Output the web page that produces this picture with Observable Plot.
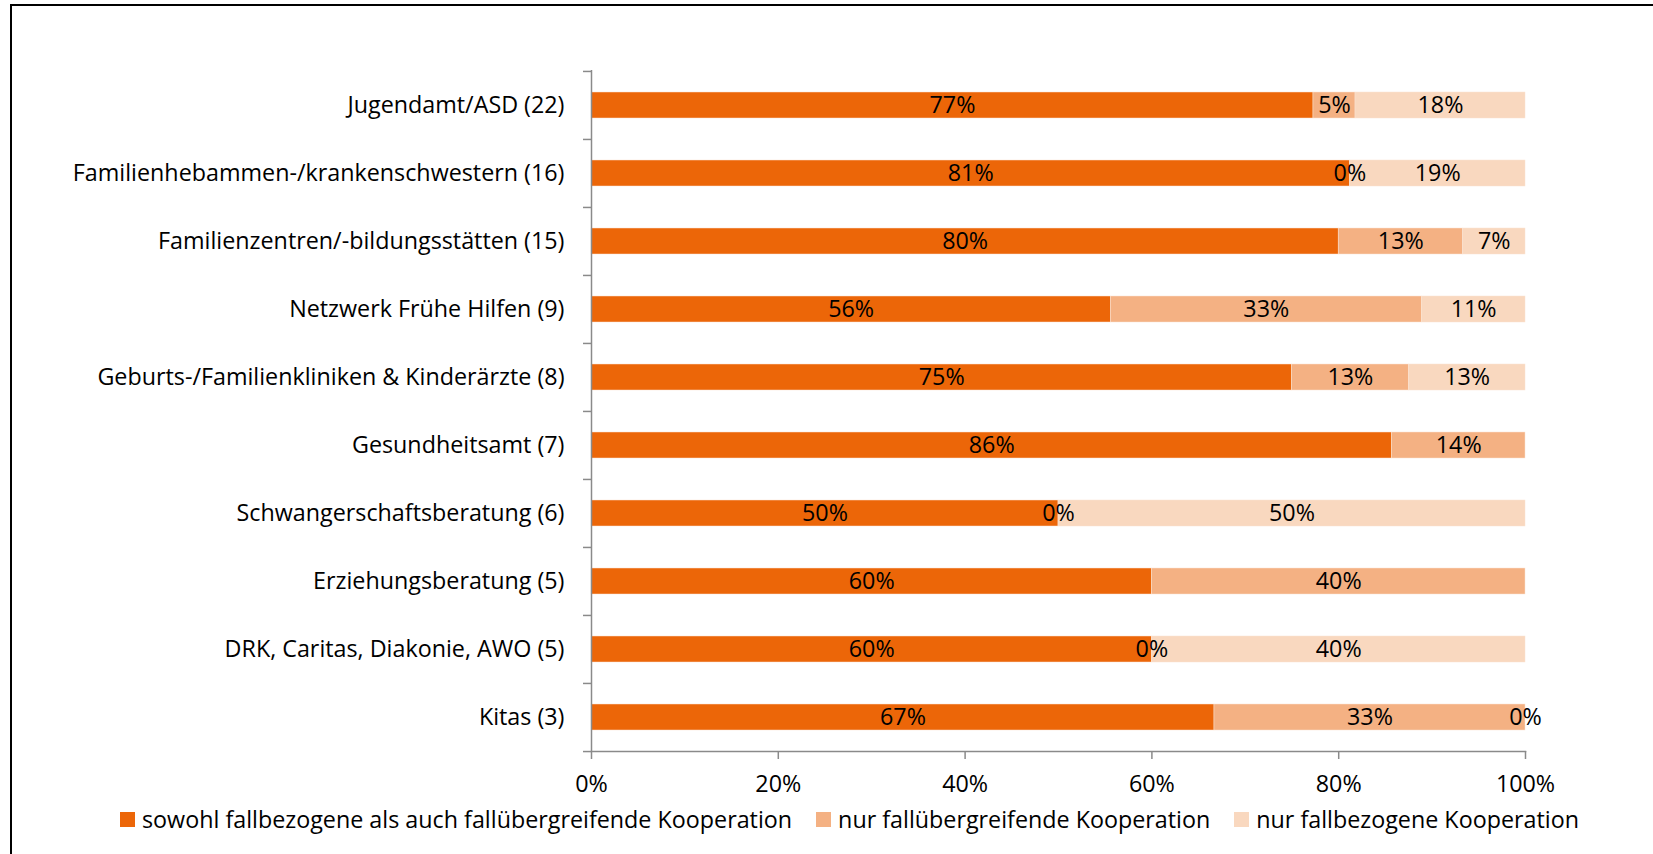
<!DOCTYPE html>
<html>
<head>
<meta charset="utf-8">
<script src="https://cdn.jsdelivr.net/npm/d3@7"></script>
<script src="https://cdn.jsdelivr.net/npm/@observablehq/plot@0.6"></script>
<style>
  html, body { margin: 0; padding: 0; background: #fff; overflow: hidden; width: 1653px; height: 854px; }
  #frame { position: absolute; left: 10px; top: 4px; width: 1643px; height: 850px; border-left: 2px solid #000; border-top: 2px solid #000; box-sizing: border-box; }
  #chart { position: absolute; left: 0; top: 0; }
  #legend { position: absolute; left: 120px; top: 803px; display: flex; align-items: center; font-family: "Open Sans", sans-serif; font-size: 23.3px; color: #000; white-space: nowrap; }
  .item { display: flex; align-items: center; margin-right: 24px; }
  .sw { width: 15px; height: 15px; margin-right: 7px; }
</style>
</head>
<body>
<div id="frame"></div>
<div id="chart"></div>
<div id="legend"></div>
<script>
const categories = [
  "Jugendamt/ASD (22)",
  "Familienhebammen-/krankenschwestern (16)",
  "Familienzentren/-bildungsstätten (15)",
  "Netzwerk Frühe Hilfen (9)",
  "Geburts-/Familienkliniken & Kinderärzte (8)",
  "Gesundheitsamt (7)",
  "Schwangerschaftsberatung (6)",
  "Erziehungsberatung (5)",
  "DRK, Caritas, Diakonie, AWO (5)",
  "Kitas (3)"
];
const seriesNames = [
  "sowohl fallbezogene als auch fallübergreifende Kooperation",
  "nur fallübergreifende Kooperation",
  "nur fallbezogene Kooperation"
];
const both      = [77.3, 81.2, 80.0, 55.6, 75.0, 85.7, 50.0, 60.0, 60.0, 66.7];
const crossOnly = [4.5, 0, 13.3, 33.3, 12.5, 14.3, 0, 40.0, 0, 33.3];
const caseOnly  = [18.2, 18.8, 6.7, 11.1, 12.5, null, 50.0, null, 40.0, 0];
const seriesColors = ["#EC6608", "#F4B183", "#F9D8BF"];
const xTicks = [0, 20, 40, 60, 80, 100];

const seriesValues = [both, crossOnly, caseOnly];
const rows = [];
categories.forEach((c, i) => {
  seriesValues.forEach((vals, s) => {
    if (vals[i] != null) rows.push({category: c, series: seriesNames[s], value: vals[i]});
  });
});

const plotTop = 70, plotBottom = 751, nCat = categories.length;
const step = (plotBottom - plotTop) / nCat;
const font = "Open Sans, sans-serif";
const fs = 23.3;
const axisGray = "#8a8a8a";
const svgHeight = 801;

const chart = Plot.plot({
  width: 1653,
  height: svgHeight,
  marginTop: plotTop,
  marginBottom: svgHeight - plotBottom,
  marginLeft: 591,
  marginRight: 128,
  style: {fontFamily: font, fontSize: fs + "px", color: "#000", background: "transparent", overflow: "visible"},
  x: {domain: [0, 100], label: null},
  y: {domain: categories, paddingInner: 0.62, paddingOuter: 0.31, label: null},
  color: {domain: seriesNames, range: seriesColors},
  marks: [
    Plot.barX(rows, Plot.stackX({y: "category", x: "value", fill: "series", z: "series", stroke: "#fbe3d2", strokeWidth: 0.5})),
    Plot.text(rows, Plot.stackX({y: "category", x: "value", z: "series", text: d => Math.round(d.value) + "%", fill: "#000", fontSize: fs})),
    Plot.ruleX([0], {stroke: axisGray, strokeWidth: 1.5}),
    Plot.frame({anchor: "bottom", stroke: axisGray, strokeWidth: 1.5}),
    Plot.axisY({tickSize: 0, tickPadding: 27, fill: "#000", fontSize: fs, label: null}),
    Plot.axisY({tickSize: 8, tickFormat: () => "", dy: -step / 2, stroke: axisGray, strokeWidth: 1.5, label: null}),
    Plot.axisY({ticks: [categories[nCat - 1]], tickSize: 8, tickFormat: () => "", dy: step / 2, stroke: axisGray, strokeWidth: 1.5, label: null}),
    Plot.axisX({ticks: xTicks, tickSize: 8, tickPadding: 16, tickFormat: d => d + "%", stroke: axisGray, strokeWidth: 1.5, fill: "#000", fontSize: fs, label: null})
  ]
});
document.getElementById("chart").appendChild(chart);

const legend = document.getElementById("legend");
seriesNames.forEach((name, i) => {
  const item = document.createElement("div");
  item.className = "item";
  const sw = document.createElement("div");
  sw.className = "sw";
  sw.style.background = seriesColors[i];
  const label = document.createElement("span");
  label.textContent = name;
  item.appendChild(sw);
  item.appendChild(label);
  legend.appendChild(item);
});
</script>
</body>
</html>
